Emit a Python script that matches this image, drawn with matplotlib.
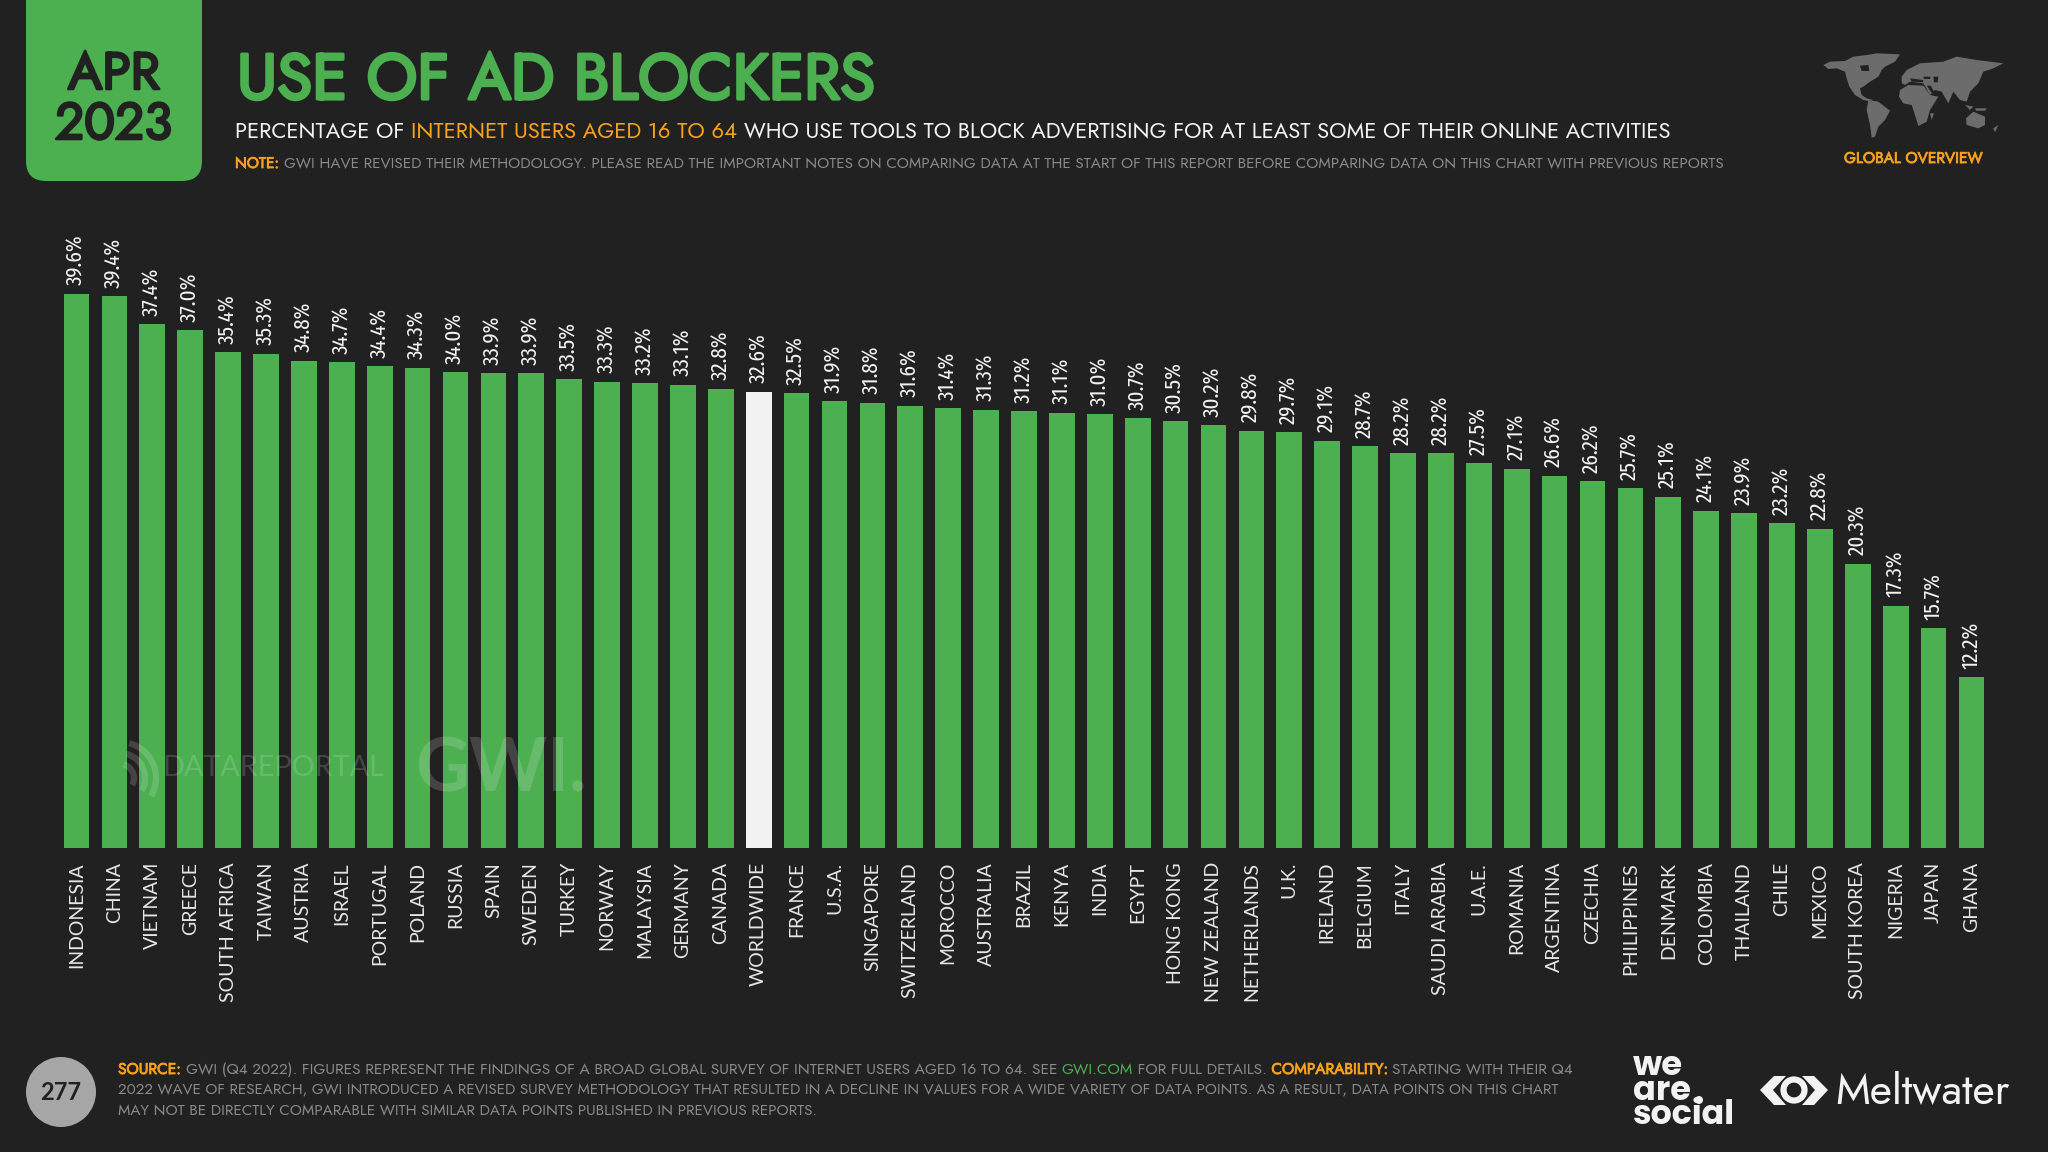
import numpy as np
import matplotlib
matplotlib.use("Agg")
import matplotlib.pyplot as plt
import matplotlib.patheffects as pe
from matplotlib.patches import FancyBboxPatch, Circle, Arc, Polygon, Ellipse

# chart data
countries = ["INDONESIA", "CHINA", "VIETNAM", "GREECE", "SOUTH AFRICA", "TAIWAN", "AUSTRIA", "ISRAEL",
             "PORTUGAL", "POLAND", "RUSSIA", "SPAIN", "SWEDEN", "TURKEY", "NORWAY", "MALAYSIA", "GERMANY",
             "CANADA", "WORLDWIDE", "FRANCE", "U.S.A.", "SINGAPORE", "SWITZERLAND", "MOROCCO", "AUSTRALIA",
             "BRAZIL", "KENYA", "INDIA", "EGYPT", "HONG KONG", "NEW ZEALAND", "NETHERLANDS", "U.K.", "IRELAND",
             "BELGIUM", "ITALY", "SAUDI ARABIA", "U.A.E.", "ROMANIA", "ARGENTINA", "CZECHIA", "PHILIPPINES",
             "DENMARK", "COLOMBIA", "THAILAND", "CHILE", "MEXICO", "SOUTH KOREA", "NIGERIA", "JAPAN", "GHANA"]
values = [39.6, 39.4, 37.4, 37.0, 35.4, 35.3, 34.8, 34.7, 34.4, 34.3, 34.0, 33.9, 33.9, 33.5, 33.3, 33.2, 33.1,
          32.8, 32.6, 32.5, 31.9, 31.8, 31.6, 31.4, 31.3, 31.2, 31.1, 31.0, 30.7, 30.5, 30.2, 29.8, 29.7, 29.1,
          28.7, 28.2, 28.2, 27.5, 27.1, 26.6, 26.2, 25.7, 25.1, 24.1, 23.9, 23.2, 22.8, 20.3, 17.3, 15.7, 12.2]
highlight = "WORLDWIDE"

BG = "#212121"
GREEN = "#4CAF50"
ORANGE = "#F9A11B"
WHITE = "#F2F2F2"
GREY = "#8A8A8A"

FUTURA = ["Jost", "Fira Sans Condensed", "Lato"]
AVENIR = ["Lato"]
COND = ["Fira Sans Extra Condensed", "Roboto", "Liberation Sans"]
GEO = ["Poppins", "Montserrat", "Inter"]

W, H = 2048, 1152
fig = plt.figure(figsize=(W / 100, H / 100), dpi=100, facecolor=BG)
renderer = fig.canvas.get_renderer()

# overlay in pixel coordinates for the slide furniture
bg = fig.add_axes([0, 0, 1, 1])
bg.set_xlim(0, W)
bg.set_ylim(H, 0)
bg.axis("off")
bg.set_zorder(5)

# bars
x0, pitch = 76.5, 37.9
left = x0 - pitch / 2
ax = fig.add_axes([left / W, (H - 848) / H, pitch * len(values) / W, 648 / H])
ax.set_facecolor("none")
ax.set_xlim(-0.5, len(values) - 0.5)
ax.set_ylim(0, 648 / 14.0)
for s in ax.spines.values():
    s.set_visible(False)
colors = [WHITE if c == highlight else GREEN for c in countries]
pos = np.arange(len(values))
ax.bar(pos, values, width=0.68, color=colors)
ax.set_xticks(pos)
ax.set_xticklabels(countries, rotation=90, family=AVENIR, fontsize=14, color="#E6E6E6")
ax.tick_params(axis="x", length=0, pad=10)
ax.set_yticks([])
for p, v in zip(pos, values):
    ax.annotate(f"{v:.1f}%", (p, v), xytext=(0, 6), textcoords="offset points", rotation=90,
                ha="center", va="bottom", family=COND, fontsize=16.5, color=WHITE)


def width_of(s, size, family, weight="normal"):
    # "." keeps trailing spaces in the measure
    a = bg.text(0, 0, s + ".", family=family, weight=weight, fontsize=size)
    b = bg.text(0, 0, ".", family=family, weight=weight, fontsize=size)
    w = a.get_window_extent(renderer).width - b.get_window_extent(renderer).width
    a.remove()
    b.remove()
    return w


def runs(x, y, parts, target, family=FUTURA):
    # lay coloured pieces of one line next to each other, sized to the target width
    total = sum(width_of(s, 20, family, w) for s, c, w in parts)
    size = 20 * target / total
    for s, c, w in parts:
        t = bg.text(x, y, s, color=c, family=family, weight=w, fontsize=size, va="baseline")
        if w == "bold" and family is FUTURA:
            # the Jost file has one weight only, so thicken it
            t.set_path_effects([pe.withStroke(linewidth=size * 0.05, foreground=c)])
        x += width_of(s, size, family, w)


# date badge
bg.add_patch(FancyBboxPatch((26, -40), 176, 221, boxstyle="round,pad=0,rounding_size=20", fc=GREEN, ec="none"))
runs(68, 89, [("APR", BG, "bold")], 92)
runs(55, 139, [("2023", BG, "bold")], 117)

runs(237, 99, [("USE OF AD BLOCKERS", GREEN, "bold")], 640)
runs(235, 138, [("PERCENTAGE OF ", WHITE, "normal"), ("INTERNET USERS AGED 16 TO 64 ", ORANGE, "normal"),
                ("WHO USE TOOLS TO BLOCK ADVERTISING FOR AT LEAST SOME OF THEIR ONLINE ACTIVITIES", WHITE, "normal")], 1438)
runs(235, 168, [("NOTE: ", ORANGE, "bold"),
                ("GWI HAVE REVISED THEIR METHODOLOGY. PLEASE READ THE IMPORTANT NOTES ON COMPARING DATA AT THE START "
                 "OF THIS REPORT BEFORE COMPARING DATA ON THIS CHART WITH PREVIOUS REPORTS", GREY, "normal")], 1492)
runs(1844, 163, [("GLOBAL OVERVIEW", ORANGE, "bold")], 139)

north_america = [(40, 60), (60, 50), (105, 48), (130, 35), (170, 30), (200, 25), (270, 28), (255, 50), (225, 65),
                 (215, 75), (205, 95), (180, 110), (160, 125), (150, 130), (155, 150), (170, 160), (190, 165),
                 (175, 168), (160, 165), (135, 150), (118, 125), (110, 100), (105, 80), (80, 70), (55, 72)]
south_america = [(175, 165), (205, 170), (240, 197), (225, 225), (205, 245), (195, 275), (185, 278), (180, 240), (170, 195)]
africa = [(270, 135), (295, 120), (340, 122), (360, 150), (385, 155), (360, 195), (350, 230), (325, 243), (315, 210),
          (305, 180), (280, 175), (267, 155)]
eurasia = [(275, 95), (290, 75), (330, 55), (400, 50), (440, 35), (500, 45), (580, 55), (550, 70), (520, 80), (505, 115),
           (480, 140), (470, 170), (450, 165), (430, 140), (415, 175), (395, 140), (375, 135), (360, 150), (340, 115),
           (300, 110), (285, 120), (275, 115)]
australia = [(468, 220), (490, 200), (525, 215), (525, 240), (505, 250), (470, 240)]
islands = [[(360, 205), (372, 205), (365, 225)], [(550, 250), (565, 240), (555, 262)], [(465, 180), (490, 185), (480, 195)],
           [(495, 190), (530, 190), (525, 197), (498, 197)]]
seas = [[(150, 62), (175, 60), (178, 78), (155, 78)], [(340, 95), (362, 95), (360, 102), (342, 102)],
        [(370, 95), (385, 95), (383, 112), (372, 112)], [(350, 122), (362, 122), (375, 145), (368, 148)],
        [(300, 100), (340, 105), (338, 112), (305, 110)]]
to_px = lambda shape: [(1810 + x / 3, 45 + y / 3) for x, y in shape]
for shape in [north_america, south_america, africa, eurasia, australia] + islands:
    bg.add_patch(Polygon(to_px(shape), fc="#6C6C6C", ec="none"))
for shape in seas:
    bg.add_patch(Polygon(to_px(shape), fc=BG, ec="none"))

# watermarks
WM = (1, 1, 1, 0.16)
runs(162, 776, [("DATAREPORTAL", WM, "normal")], 221, family=AVENIR)
runs(415, 792, [("GWI.", WM, "bold")], 172, family=AVENIR)
for r in (14, 25, 36):
    bg.add_patch(Arc((120, 778), r * 2, r * 2, theta1=-75, theta2=30, lw=4.5, ec=WM, fc="none"))

# footer
bg.add_patch(Circle((61, 1092), 35, fc="#A6A6A6", ec="none"))
bg.text(61, 1092, "277", ha="center", va="center", family=AVENIR, weight="bold", fontsize=17, color=BG)
runs(118, 1074, [("SOURCE: ", ORANGE, "bold"),
                 ("GWI (Q4 2022). FIGURES REPRESENT THE FINDINGS OF A BROAD GLOBAL SURVEY OF INTERNET USERS AGED 16 TO 64. SEE ", GREY, "normal"),
                 ("GWI.COM", GREEN, "normal"), (" FOR FULL DETAILS. ", GREY, "normal"),
                 ("COMPARABILITY: ", ORANGE, "bold"), ("STARTING WITH THEIR Q4", GREY, "normal")], 1463)
runs(118, 1094, [("2022 WAVE OF RESEARCH, GWI INTRODUCED A REVISED SURVEY METHODOLOGY THAT RESULTED IN A DECLINE IN VALUES "
                  "FOR A WIDE VARIETY OF DATA POINTS. AS A RESULT, DATA POINTS ON THIS CHART", GREY, "normal")], 1447)
runs(118, 1115, [("MAY NOT BE DIRECTLY COMPARABLE WITH SIMILAR DATA POINTS PUBLISHED IN PREVIOUS REPORTS.", GREY, "normal")], 701)

# logos
for word, base, wid in [("we", 1075, 50), ("are", 1100, 58), ("social", 1124, 102)]:
    runs(1633, base, [(word, WHITE, "bold")], wid, family=GEO)
bg.add_patch(Circle((1699, 1100), 4, fc=WHITE, ec="none"))
runs(1835, 1104, [("Meltwater", WHITE, "normal")], 175)
bg.add_patch(Polygon([(1774, 1076), (1786, 1076), (1773, 1090), (1786, 1105), (1774, 1105), (1760, 1090)], fc=WHITE, ec="none"))
bg.add_patch(Polygon([(1814, 1076), (1802, 1076), (1815, 1090), (1802, 1105), (1814, 1105), (1828, 1090)], fc=WHITE, ec="none"))
bg.add_patch(Ellipse((1794, 1090), 21, 21, fc="none", ec=WHITE, lw=4.5))

fig.savefig("out.png", dpi=100, facecolor=BG)
